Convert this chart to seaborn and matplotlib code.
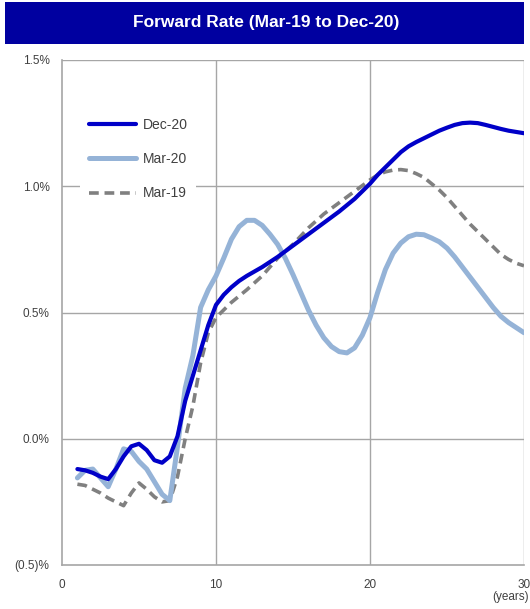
import matplotlib
matplotlib.use("Agg")
import matplotlib.pyplot as plt
from matplotlib.patches import Rectangle
from matplotlib.ticker import FuncFormatter
import seaborn as sns
import pandas as pd

# Forward rate curves (tenor in years, rate in %)
years_dec20 = [1, 1.5, 2, 2.5, 3, 3.5, 4, 4.5, 5, 5.5, 6, 6.5, 7, 7.5, 8, 8.5, 9, 9.5,
               10, 10.5, 11, 11.5, 12, 13, 14, 15, 16, 17, 18, 19, 20, 20.5, 21, 21.5, 22,
               22.5, 23, 23.5, 24, 24.5, 25, 25.5, 26, 26.5, 27, 27.5, 28, 28.5, 29, 29.5, 30]
dec20 = [-0.12, -0.125, -0.135, -0.15, -0.16, -0.12, -0.07, -0.03, -0.02, -0.045, -0.085,
         -0.095, -0.07, 0.01, 0.15, 0.25, 0.35, 0.45, 0.53, 0.57, 0.60, 0.625, 0.645, 0.68,
         0.72, 0.765, 0.81, 0.855, 0.90, 0.95, 1.01, 1.045, 1.075, 1.105, 1.135, 1.158, 1.175,
         1.19, 1.205, 1.22, 1.232, 1.243, 1.25, 1.252, 1.25, 1.243, 1.235, 1.227, 1.22, 1.215,
         1.21]

years_mar20 = [1, 1.5, 2, 2.5, 3, 3.5, 4, 4.5, 5, 5.5, 6, 6.5, 7, 7.5, 8, 8.5, 9, 9.5,
               10, 10.5, 11, 11.5, 12, 12.5, 13, 13.5, 14, 14.5, 15, 15.5, 16, 16.5, 17, 17.5,
               18, 18.5, 19, 19.5, 20, 20.5, 21, 21.5, 22, 22.5, 23, 23.5, 24, 24.5, 25, 25.5,
               26, 26.5, 27, 27.5, 28, 28.5, 29, 29.5, 30]
mar20 = [-0.155, -0.125, -0.12, -0.155, -0.19, -0.12, -0.04, -0.05, -0.09, -0.12, -0.17, -0.22,
         -0.245, -0.03, 0.2, 0.33, 0.52, 0.59, 0.645, 0.715, 0.79, 0.84, 0.865, 0.865, 0.845,
         0.81, 0.77, 0.715, 0.65, 0.58, 0.51, 0.45, 0.40, 0.365, 0.345, 0.34, 0.36, 0.41, 0.48,
         0.58, 0.67, 0.735, 0.775, 0.80, 0.81, 0.808, 0.795, 0.78, 0.755, 0.72, 0.68, 0.64,
         0.60, 0.56, 0.52, 0.485, 0.46, 0.44, 0.42]

years_mar19 = [1, 1.5, 2, 2.5, 3, 3.5, 4, 4.5, 5, 5.5, 6, 6.5, 7, 7.5, 8, 8.5, 9, 9.5,
               10, 11, 12, 13, 14, 15, 16, 17, 18, 19, 20, 20.5, 21, 21.5, 22, 22.5, 23, 23.5,
               24, 24.5, 25, 25.5, 26, 26.5, 27, 27.5, 28, 28.5, 29, 29.5, 30]
mar19 = [-0.18, -0.185, -0.2, -0.215, -0.235, -0.25, -0.265, -0.215, -0.175, -0.2, -0.23, -0.25,
         -0.245, -0.15, 0.0, 0.13, 0.30, 0.42, 0.48, 0.54, 0.59, 0.645, 0.715, 0.77, 0.835, 0.89,
         0.935, 0.98, 1.025, 1.045, 1.057, 1.064, 1.066, 1.062, 1.05, 1.035, 1.01, 0.985, 0.955,
         0.92, 0.885, 0.85, 0.82, 0.79, 0.76, 0.73, 0.71, 0.695, 0.685]

x_ticks = [0, 10, 20, 30]
y_ticks = [-0.5, 0.0, 0.5, 1.0, 1.5]
title = "Forward Rate (Mar-19 to Dec-20)"

sns.set_style("white")
plt.rcParams["font.family"] = ["Liberation Sans", "DejaVu Sans"]

fig = plt.figure(figsize=(5.30, 6.09), dpi=100)
ax = fig.add_axes([62 / 530, 1 - 565 / 609, (524 - 62) / 530, (565 - 60) / 609])

grid_c = "#a6a6a6"
for xv in x_ticks[1:]:
    ax.axvline(xv, color=grid_c, lw=1.0, zorder=0)
for yv in y_ticks[1:]:
    ax.axhline(yv, color=grid_c, lw=1.0, zorder=0)

df_dec = pd.DataFrame({"year": years_dec20, "rate": dec20})
df_m20 = pd.DataFrame({"year": years_mar20, "rate": mar20})
df_m19 = pd.DataFrame({"year": years_mar19, "rate": mar19})

sns.lineplot(data=df_dec, x="year", y="rate", ax=ax, color="#0000c8", lw=3.0,
             label="Dec-20", zorder=4, solid_capstyle="round", solid_joinstyle="round")
sns.lineplot(data=df_m20, x="year", y="rate", ax=ax, color="#95b3d7", lw=3.6,
             label="Mar-20", zorder=3, solid_capstyle="round", solid_joinstyle="round")
sns.lineplot(data=df_m19, x="year", y="rate", ax=ax, color="#808080", lw=2.6,
             label="Mar-19", zorder=2)
ax.lines[-1].set_dashes((2.7, 1.6))
ax.lines[-1].set_dash_capstyle("butt")

ax.set_xlim(0, 30)
ax.set_ylim(-0.5, 1.5)
ax.set_xticks(x_ticks)
ax.set_yticks(y_ticks)
ax.set_xlabel("")
ax.set_ylabel("")


def pct(v, _):
    if v < 0:
        return f"({abs(v):.1f})%"
    return f"{v:.1f}%"


ax.yaxis.set_major_formatter(FuncFormatter(pct))
ax.tick_params(axis="y", length=6, width=1, color=grid_c, labelsize=8.5,
               labelcolor="#404040", pad=3, direction="out")
ax.tick_params(axis="x", length=0, labelsize=8.5, labelcolor="#404040", pad=10)
for side in ["top", "right"]:
    ax.spines[side].set_visible(False)
for side in ["left", "bottom"]:
    ax.spines[side].set_color(grid_c)
    ax.spines[side].set_linewidth(1.2)

fig.text(529 / 530, 1 - 591 / 609, "(years)", ha="right", va="top",
         fontsize=8.5, color="#404040")

# legend sits on a white box that hides the gridline behind it
leg = ax.legend(loc="upper left", bbox_to_anchor=(0.025, 0.915), frameon=True,
                fancybox=False, fontsize=10, handlelength=3.4, handletextpad=0.5,
                labelspacing=1.45, borderpad=0.6)
leg.get_frame().set_facecolor("white")
leg.get_frame().set_edgecolor("none")
leg.get_frame().set_alpha(1.0)
for t in leg.get_texts():
    t.set_color("#404040")

# title banner
fig.patches.append(Rectangle((5 / 530, 1 - 44 / 609), (524 - 5) / 530, 42 / 609,
                             transform=fig.transFigure, facecolor="#0000a0",
                             edgecolor="none", zorder=0))
fig.text(266 / 530, 1 - 23 / 609, title, ha="center", va="center", color="white",
         fontsize=12.5, fontweight="bold")

fig.savefig("out.png", dpi=100)
